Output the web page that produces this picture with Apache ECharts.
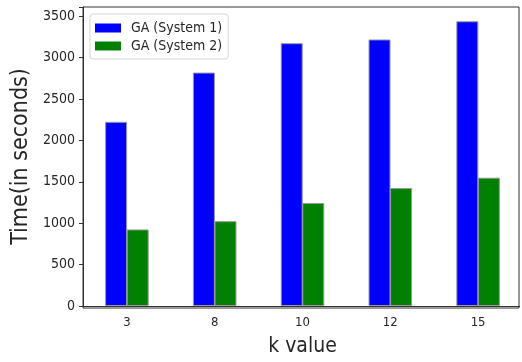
<!DOCTYPE html>
<html>
<head>
<meta charset="utf-8">
<script src="https://cdn.jsdelivr.net/npm/echarts@6/dist/echarts.min.js"></script>
<style>
  html, body { margin: 0; padding: 0; background: #fff; }
  #chart { width: 522px; height: 362px; }
</style>
</head>
<body>
<div id="chart"></div>
<script>
// k values on the x axis
const kValues = ['3', '8', '10', '12', '15'];
// run time in seconds for each system
const system1Times = [2225, 2820, 3175, 3220, 3440];
const system2Times = [925, 1025, 1245, 1425, 1550];
const seriesNames = ['GA (System 1)', 'GA (System 2)'];
const yTicks = [0, 500, 1000, 1500, 2000, 2500, 3000, 3500];

const FONT = '"DejaVu Sans Condensed", "DejaVu Sans", sans-serif';
const TEXT = '#262626';
const yMax = Math.max(...system1Times, ...system2Times) * 1.05;

const chart = echarts.init(document.getElementById('chart'), null, { renderer: 'canvas' });

// plot frame (top and right sides; left and bottom come from the axes)
const frame = { left: 83, top: 7, width: 436, height: 301 };

chart.setOption({
  animation: false,
  backgroundColor: '#fff',
  grid: { left: frame.left, top: frame.top, width: 441, height: frame.height, containLabel: false },
  graphic: [{
    type: 'rect',
    shape: { x: frame.left, y: frame.top, width: frame.width, height: frame.height },
    style: { fill: 'none', stroke: '#333', lineWidth: 1 },
    z: 100, silent: true
  }, {
    type: 'rect',
    shape: { x: frame.left + frame.width + 1, y: frame.top + frame.height - 2, width: 10, height: 4 },
    style: { fill: '#fff' },
    z: 101, silent: true
  }],
  legend: {
    orient: 'vertical',
    left: 90, top: 14,
    padding: [7, 6, 6, 5],
    icon: 'rect',
    itemWidth: 26, itemHeight: 9, itemGap: 4,
    itemStyle: { borderWidth: 0 },
    backgroundColor: '#fff',
    borderColor: '#d6d6d6', borderWidth: 1, borderRadius: 3,
    textStyle: { fontFamily: FONT, fontSize: 14, color: TEXT, padding: [0, 0, 0, 5] },
    data: seriesNames
  },
  xAxis: {
    type: 'category',
    data: kValues,
    name: 'k value',
    nameLocation: 'middle',
    nameGap: 30,
    nameTextStyle: { fontFamily: FONT, fontSize: 21, color: TEXT },
    axisLine: { lineStyle: { color: '#333', width: 1 } },
    axisTick: { alignWithLabel: true, length: 4, lineStyle: { color: '#333' } },
    axisLabel: { fontFamily: FONT, fontSize: 13, color: TEXT, margin: 10 },
    splitLine: { show: false }
  },
  yAxis: {
    type: 'value',
    min: 0, max: yMax, interval: 500,
    name: 'Time(in seconds)',
    nameLocation: 'middle',
    nameGap: 46,
    nameTextStyle: { fontFamily: FONT, fontSize: 23, color: TEXT },
    axisLine: { show: true, lineStyle: { color: '#333', width: 1 } },
    axisTick: { show: true, length: 4, lineStyle: { color: '#333' } },
    axisLabel: {
      fontFamily: FONT, fontSize: 14, color: TEXT, margin: 8,
      formatter: v => (yTicks.includes(v) ? String(v) : '')
    },
    splitLine: { show: false }
  },
  series: [{
    name: seriesNames[0],
    type: 'bar',
    data: system1Times,
    barWidth: 22,
    barGap: '-2%',
    itemStyle: { color: '#0000ff', borderColor: '#999', borderWidth: 1 }
  }, {
    name: seriesNames[1],
    type: 'bar',
    data: system2Times,
    barWidth: 22,
    barGap: '-2%',
    itemStyle: { color: '#008000', borderColor: '#999', borderWidth: 1 }
  }]
});
</script>
</body>
</html>
